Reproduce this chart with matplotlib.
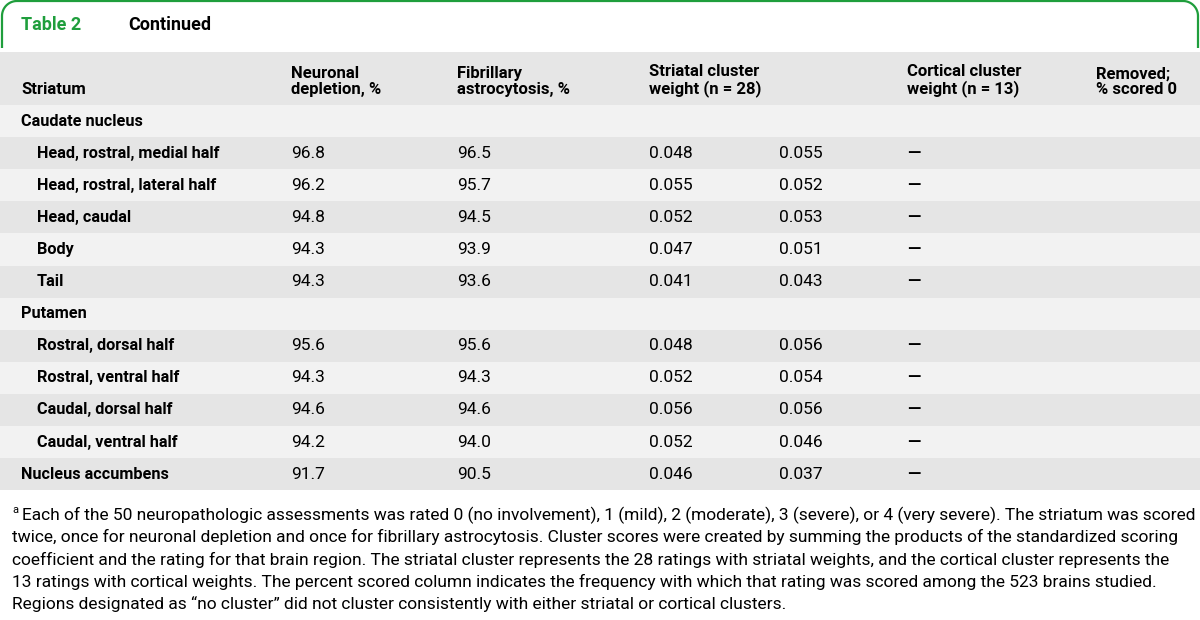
import numpy as np
import matplotlib.pyplot as plt
from matplotlib.path import Path
from matplotlib.patches import PathPatch, Rectangle

plt.rcParams['font.family'] = ['Roboto', 'DejaVu Sans']

# table content
title_num = 'Table 2'
title_txt = 'Continued'
headers = ['Striatum', 'Neuronal\ndepletion, %', 'Fibrillary\nastrocytosis, %',
           'Striatal cluster\nweight (n = 28)', '', 'Cortical cluster\nweight (n = 13)',
           'Removed;\n% scored 0']
regions = ['Caudate nucleus', 'Head, rostral, medial half', 'Head, rostral, lateral half',
           'Head, caudal', 'Body', 'Tail', 'Putamen', 'Rostral, dorsal half',
           'Rostral, ventral half', 'Caudal, dorsal half', 'Caudal, ventral half',
           'Nucleus accumbens']
indent = [0, 1, 1, 1, 1, 1, 0, 1, 1, 1, 1, 0]
neuronal = ['', '96.8', '96.2', '94.8', '94.3', '94.3', '', '95.6', '94.3', '94.6', '94.2', '91.7']
fibrillary = ['', '96.5', '95.7', '94.5', '93.9', '93.6', '', '95.6', '94.3', '94.6', '94.0', '90.5']
striatal_a = ['', '0.048', '0.055', '0.052', '0.047', '0.041', '', '0.048', '0.052', '0.056', '0.052', '0.046']
striatal_b = ['', '0.055', '0.052', '0.053', '0.051', '0.043', '', '0.056', '0.054', '0.056', '0.046', '0.037']
cortical = ['', '—', '—', '—', '—', '—', '', '—', '—', '—', '—', '—']
footnote = [
    'Each of the 50 neuropathologic assessments was rated 0 (no involvement), 1 (mild), 2 (moderate), 3 (severe), or 4 (very severe). The striatum was scored',
    'twice, once for neuronal depletion and once for fibrillary astrocytosis. Cluster scores were created by summing the products of the standardized scoring',
    'coefficient and the rating for that brain region. The striatal cluster represents the 28 ratings with striatal weights, and the cortical cluster represents the',
    '13 ratings with cortical weights. The percent scored column indicates the frequency with which that rating was scored among the 523 brains studied.',
    'Regions designated as “no cluster” did not cluster consistently with either striatal or cortical clusters.',
]

W, H = 1200, 620
green = '#1f9e3c'
col_x = [21, 291, 457, 649, 779, 907, 1096]

fig = plt.figure(figsize=(W / 100, H / 100), dpi=100)
ax = fig.add_axes([0, 0, 1, 1])
ax.set_xlim(0, W)
ax.set_ylim(H, 0)
ax.axis('off')

# green rounded frame around the title
r = 15
t = np.linspace(np.pi, 1.5 * np.pi, 20)
left_arc = np.column_stack([2 + r + r * np.cos(t), 1 + r + r * np.sin(t)])
t2 = np.linspace(1.5 * np.pi, 2 * np.pi, 20)
right_arc = np.column_stack([W - 2 - r + r * np.cos(t2), 1 + r + r * np.sin(t2)])
verts = np.vstack([[2, 48], left_arc, right_arc, [W - 2, 48]])
ax.add_patch(PathPatch(Path(verts), fill=False, edgecolor=green, lw=1.6))

ax.text(21, 25, title_num, color=green, fontsize=13, fontweight='bold', va='center')
ax.text(128, 25, title_txt, color='black', fontsize=13, fontweight='bold', va='center')

# header band
top, head_h, row_h = 52, 53, 32.1
ax.add_patch(Rectangle((0, top), W, head_h, facecolor='#e6e6e6', edgecolor='none'))
for x, h in zip(col_x, headers):
    ax.text(x, top + head_h - 8, h, fontsize=12, fontweight='bold', va='bottom',
            linespacing=1.05)

# body rows
y0 = top + head_h
for i, name in enumerate(regions):
    y = y0 + i * row_h
    fc = '#f2f2f2' if i % 2 == 0 else '#e5e5e5'
    ax.add_patch(Rectangle((0, y), W, row_h, facecolor=fc, edgecolor='none'))
    yc = y + row_h / 2
    ax.text(37 if indent[i] else 21, yc, name, fontsize=11.7, fontweight='bold', va='center')
    for x, vals in zip(col_x[1:6], [neuronal, fibrillary, striatal_a, striatal_b, cortical]):
        if vals[i]:
            ax.text(x, yc, vals[i], fontsize=12.5, va='center',
                    fontweight='bold' if vals[i] == '—' else 'normal')

# footnote (small superscript a before the first line)
ax.text(12, 510, 'a', fontsize=8, va='center')
for k, line in enumerate(footnote):
    ax.text(22 if k == 0 else 12, 515 + k * 22.3, line, fontsize=12.5, va='center')

fig.savefig('out.png', dpi=100)
